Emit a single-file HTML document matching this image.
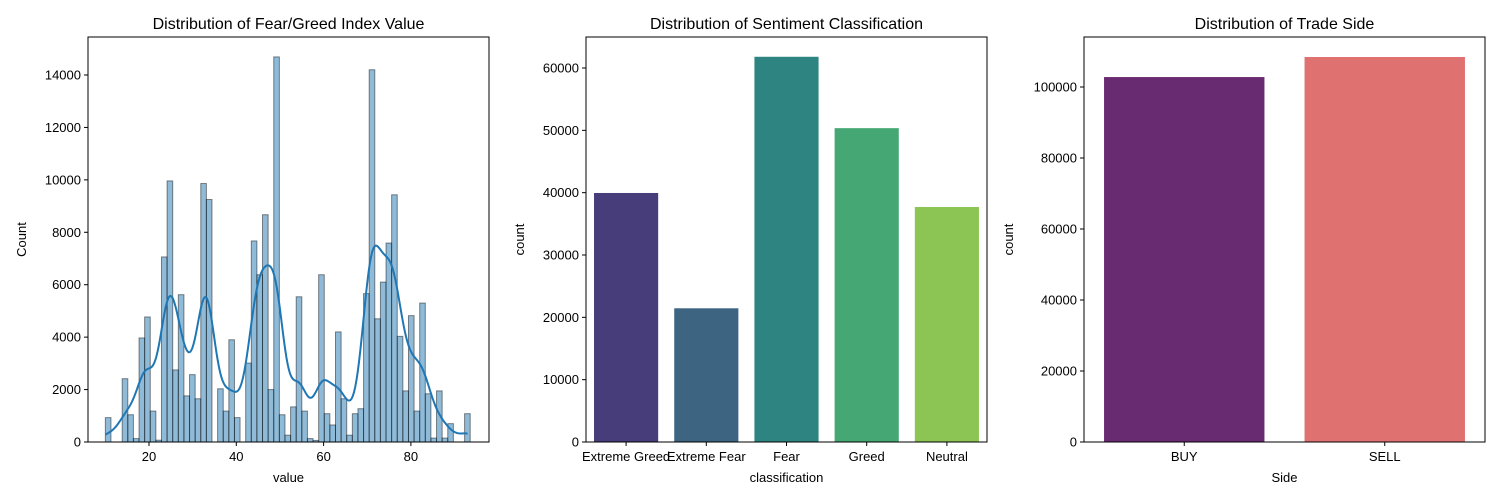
<!DOCTYPE html>
<html><head><meta charset="utf-8"><style>
html,body{margin:0;padding:0;background:#fff;}
svg{display:block;font-family:"Liberation Sans","DejaVu Sans",sans-serif;}
</style></head><body>
<svg id="fig" width="1500" height="500" viewBox="0 0 1500 500" xmlns="http://www.w3.org/2000/svg"></svg>
<script>
// ---- Chart 1: histogram of Fear/Greed index value ----
const histStart = 10;
const histBinWidth = 1.286;
const histCounts = [930,0,0,2415,1040,130,3970,4770,1180,70,7060,9960,2750,5620,1760,2570,1650,9860,9250,0,
  2030,1180,3900,930,0,3010,7670,6380,8670,2000,14690,1040,260,1340,5540,1180,130,60,6380,1080,
  650,4200,1650,260,1080,1270,5660,14200,4700,6100,7590,9430,4030,1950,4820,1180,5300,1840,150,1950,
  150,700,0,0,1080];
const histXTicks = [20,40,60,80];
const histYTicks = [0,2000,4000,6000,8000,10000,12000,14000];
// ---- Chart 2: sentiment classification ----
const sentCategories = ["Extreme Greed","Extreme Fear","Fear","Greed","Neutral"];
const sentCounts = [39950,21450,61800,50350,37700];
const sentColors = ["#473d7a","#3d6480","#2e8480","#45a874","#8dc555"];
const sentYTicks = [0,10000,20000,30000,40000,50000,60000];
// ---- Chart 3: trade side ----
const sideCategories = ["BUY","SELL"];
const sideCounts = [102800,108450];
const sideColors = ["#682a70","#df7170"];
const sideYTicks = [0,20000,40000,60000,80000,100000];

const NS="http://www.w3.org/2000/svg";
const svg=document.getElementById('fig');
function mk(tag,attrs,parent){const e=document.createElementNS(NS,tag);for(const k in attrs)e.setAttribute(k,attrs[k]);(parent||svg).appendChild(e);return e;}
function txt(s,attrs,parent){const e=mk('text',attrs,parent);e.textContent=s;return e;}

function axesFrame(g,L,R,T,B,title,xlabel,ylabel,yTicks,yScale,ylabX){
  const fr=mk('rect',{x:L,y:T,width:R-L,height:B-T,fill:'none',stroke:'#000','stroke-width':1},g);
  
  
  const t=txt(title,{x:(L+R)/2,y:29,'text-anchor':'middle','font-size':16,fill:'#000'},g);
  
  
  const xl=txt(xlabel,{x:(L+R)/2,y:482,'text-anchor':'middle','font-size':13,fill:'#000'},g);
  
  
  const yl=txt(ylabel,{x:ylabX,y:(T+B)/2,'text-anchor':'middle','font-size':13,fill:'#000',transform:`rotate(-90 ${ylabX} ${(T+B)/2})`},g);
  
  
  yTicks.forEach(v=>{const y=yScale(v);
    mk('line',{x1:L-4,x2:L,y1:y,y2:y,stroke:'#000'},g);
    const tl=txt(String(v),{x:L-7,y:y+4.5,'text-anchor':'end','font-size':13,fill:'#000'},g);
    
    
  });
}

// Chart 1
(function(){
  const L=88,R=489,T=37,B=442;
  const g=mk('g',{});
  
  
  const xS=v=>149+(v-20)*4.365;
  const yS=v=>B-v*(367/14000);
  histCounts.forEach((c,i)=>{
    if(c<=0)return;
    const x0=xS(histStart+i*histBinWidth), x1=xS(histStart+(i+1)*histBinWidth);
    const r=mk('rect',{x:x0,y:yS(c),width:x1-x0,height:B-yS(c),fill:'rgba(31,119,180,0.5)',stroke:'rgba(0,0,0,0.45)','stroke-width':1},g);
    
    
  });
  const n=histCounts.reduce((a,b)=>a+b,0);
  const h=1.9;
  const xmin=histStart, xmax=histStart+histCounts.length*histBinWidth-0.6;
  let d='';
  for(let k=0;k<=300;k++){
    const x=xmin+(xmax-xmin)*k/300;
    let s=0;
    histCounts.forEach((c,i)=>{const m=histStart+(i+0.5)*histBinWidth;const z=(x-m)/h;s+=c*Math.exp(-0.5*z*z);});
    const dens=s/(n*h*Math.sqrt(2*Math.PI));
    const val=dens*n*histBinWidth;
    d+=(k?'L':'M')+xS(x).toFixed(2)+','+yS(val).toFixed(2);
  }
  const p=mk('path',{d:d,fill:'none',stroke:'#1f77b4','stroke-width':2},g);
  
  
  histXTicks.forEach(v=>{const x=xS(v);
    mk('line',{x1:x,x2:x,y1:B,y2:B+4,stroke:'#000'},g);
    const tl=txt(String(v),{x:x,y:B+19,'text-anchor':'middle','font-size':13,fill:'#000'},g);
    
    
  });
  axesFrame(g,L,R,T,B,'Distribution of Fear/Greed Index Value','value','Count',histYTicks,yS,26);
})();

// Chart 2
(function(){
  const L=586,R=987,T=37,B=442;
  const g=mk('g',{});
  
  
  const yS=v=>B-v*(374/60000);
  const step=(R-L)/sentCategories.length;
  sentCategories.forEach((c,i)=>{
    const cx=L+step*(i+0.5), w=step*0.8;
    const r=mk('rect',{x:cx-w/2,y:yS(sentCounts[i]),width:w,height:B-yS(sentCounts[i]),fill:sentColors[i]},g);
    
    
    mk('line',{x1:cx,x2:cx,y1:B,y2:B+4,stroke:'#000'},g);
    const tl=txt(c,{x:cx,y:B+19,'text-anchor':'middle','font-size':13,fill:'#000'},g);
    
    
  });
  axesFrame(g,L,R,T,B,'Distribution of Sentiment Classification','classification','count',sentYTicks,yS,524);
})();

// Chart 3
(function(){
  const L=1084,R=1485,T=37,B=442;
  const g=mk('g',{});
  
  
  const yS=v=>B-v*(355/100000);
  const step=(R-L)/sideCategories.length;
  sideCategories.forEach((c,i)=>{
    const cx=L+step*(i+0.5), w=step*0.8;
    const r=mk('rect',{x:cx-w/2,y:yS(sideCounts[i]),width:w,height:B-yS(sideCounts[i]),fill:sideColors[i]},g);
    
    
    mk('line',{x1:cx,x2:cx,y1:B,y2:B+4,stroke:'#000'},g);
    const tl=txt(c,{x:cx,y:B+19,'text-anchor':'middle','font-size':13,fill:'#000'},g);
    
    
  });
  axesFrame(g,L,R,T,B,'Distribution of Trade Side','Side','count',sideYTicks,yS,1013);
})();
</script>
</body></html>
